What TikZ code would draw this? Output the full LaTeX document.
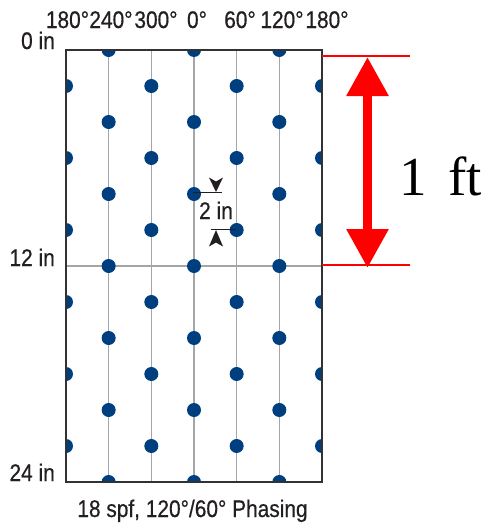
\documentclass[tikz,border=0pt]{standalone}
\usepackage{fontspec}
\setmainfont[FakeStretch=0.87,FakeBold=0.6]{Liberation Sans}
\newfontfamily\ftserif{Liberation Serif}
\usetikzlibrary{arrows.meta}
\definecolor{dotblue}{RGB}{0,63,127}
\definecolor{gridgray}{RGB}{165,165,165}
\definecolor{framegray}{RGB}{50,50,50}
\definecolor{txtgray}{RGB}{35,31,32}
\begin{document}
\begin{tikzpicture}[x=1pt,y=-1pt,
  lbl/.style={font=\fontsize{24}{26}\selectfont, inner sep=0pt, text=txtgray},
  gridline/.style={draw=gridgray, line width=1.5pt},
  frameline/.style={draw=framegray, line width=2pt},
  holedot/.style={fill=dotblue},
  redline/.style={draw=red, line width=2pt},
  tickline/.style={draw=txtgray, line width=1.2pt},
  tiphead/.style={fill=txtgray},
]
\useasboundingbox (0,0) rectangle (485,525);

% grid lines
\foreach \k in {1,...,5}
  \draw[gridline] (66+42.667*\k,50) -- (66+42.667*\k,482);
\draw[gridline] (66,266) -- (322,266);

% dots, clipped by the frame
\begin{scope}
  \clip (66,50) rectangle (322,482);
  \foreach \k in {1,3,5}
    \foreach \i in {0,4,...,24}
      \fill[holedot] (66+42.667*\k,50+18*\i) circle (7pt);
  \foreach \k in {0,2,4,6}
    \foreach \i in {2,6,...,22}
      \fill[holedot] (66+42.667*\k,50+18*\i) circle (7pt);
\end{scope}

% frame
\draw[frameline] (66,50) rectangle (322,482);

% top phase labels
\node[lbl, anchor=base] (p1) at (67.5,28) {180°};
\node[lbl, anchor=base] (p2) at (111,28) {240°};
\node[lbl, anchor=base] (p3) at (156,28) {300°};
\node[lbl, anchor=base] (p4) at (197,28) {0°};
\node[lbl, anchor=base] (p5) at (240,28) {60°};
\node[lbl, anchor=base] (p6) at (282,28) {120°};
\node[lbl, anchor=base] (p7) at (327,28) {180°};

% left depth labels
\node[lbl, anchor=base east] (d0) at (55,49) {0 in};
\node[lbl, anchor=base east] (d12) at (55,266) {12 in};
\node[lbl, anchor=base east] (d24) at (55,481) {24 in};

% bottom caption
\node[lbl, anchor=base] (cap) at (192.5,517) {18 spf, 120°/60° Phasing};

% 2 in dimension
\draw[tickline] (193,192.5) -- (222,192.5);
\draw[tickline] (210.5,229.5) -- (236,229.5);
\fill[tiphead] (209,177.5) -- (216,181.5) -- (223,177.5) -- (216,192) -- cycle;
\fill[tiphead] (209,246.5) -- (216,242.5) -- (223,246.5) -- (216,230) -- cycle;
\node[lbl, anchor=base] (two) at (216,219) {2 in};

% 1 ft red dimension
\draw[redline] (322,56) -- (410,56);
\draw[redline] (322,264.5) -- (410,264.5);
\coordinate (ftop) at (367.5,57);
\coordinate (fbot) at (367.5,268);
\draw[red, line width=9pt,
  {Triangle[width=40pt,length=39pt]}-{Triangle[width=40pt,length=39pt]}] (ftop) -- (fbot);
\node[font=\ftserif\fontsize{55}{58}\selectfont, anchor=base, inner sep=0pt] (ft) at (441,195) {1\hspace{0.14em} ft};
\end{tikzpicture}
\end{document}
